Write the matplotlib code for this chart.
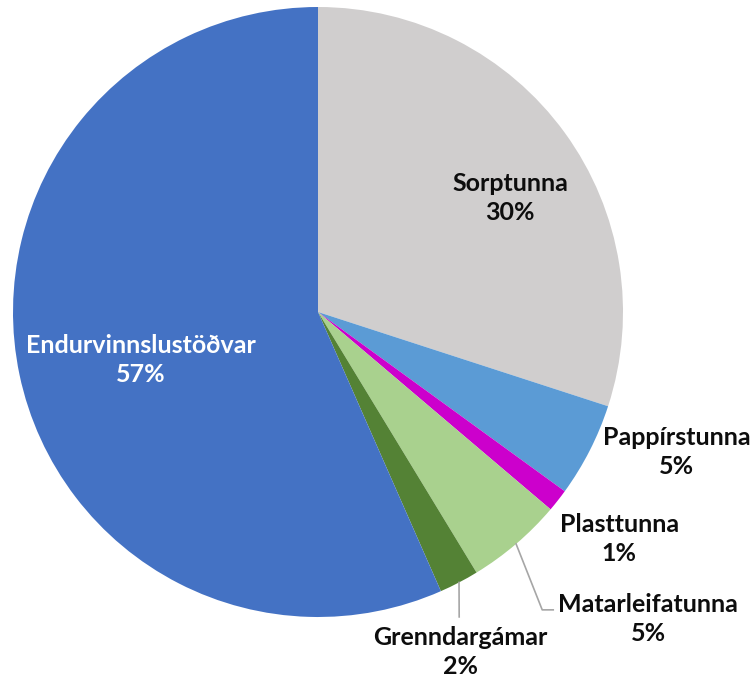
import numpy as np
import matplotlib
matplotlib.use("Agg")
import matplotlib.pyplot as plt

# Data (share of household waste, %)
categories = ["Sorptunna", "Pappírstunna", "Plasttunna", "Matarleifatunna",
              "Grenndargámar", "Endurvinnslustöðvar"]
values = [30.0, 5.0, 1.2, 5.1, 2.1, 56.6]

COLORS = ["#D0CECE", "#5B9BD5", "#CC00CC", "#A9D18E", "#548235", "#4472C4"]
TEXT_COLORS = ["#0d0d0d", "#0d0d0d", "#0d0d0d", "#0d0d0d", "#0d0d0d", "white"]
LEADER = "#a6a6a6"

W, H = 756, 681
CX, CY, R = 318, H - 312, 305

# label placement: (radius factor, angle deg) relative to pie centre
LABEL_POS = [(0.732, 30.7), (1.263, -21.3), (1.236, -37.0),
             (1.478, -42.9), (1.208, -67.3), (0.601, 195.2)]
# leader lines: offsets of elbow / line end from label centre (pixels)
LEADERS = {3: [(-106, 9), (-95, 9)], 4: [(-1, 35)]}

fig = plt.figure(figsize=(W / 100, H / 100), dpi=100)
ax = fig.add_axes([0, 0, 1, 1])

wedges, _ = ax.pie(values, colors=COLORS, startangle=90, counterclock=False,
                   center=(CX, CY), radius=R, frame=True)
ax.set_xlim(0, W)
ax.set_ylim(0, H)
ax.set_aspect("equal")
ax.axis("off")

total = sum(values)
font = dict(family=["Lato", "DejaVu Sans"], fontweight="bold", fontsize=18)
for i, (w, cat, v) in enumerate(zip(wedges, categories, values)):
    rf, ang = LABEL_POS[i]
    lx = CX + rf * R * np.cos(np.radians(ang))
    ly = CY + rf * R * np.sin(np.radians(ang))
    ax.text(lx, ly, f"{cat}\n{v / total * 100:.0f}%", ha="center", va="center",
            color=TEXT_COLORS[i], linespacing=1.35, **font)
    if i in LEADERS:
        mid = np.radians((w.theta1 + w.theta2) / 2)
        xs = [CX + R * np.cos(mid)] + [lx + dx for dx, dy in LEADERS[i]]
        ys = [CY + R * np.sin(mid)] + [ly + dy for dx, dy in LEADERS[i]]
        ax.plot(xs, ys, color=LEADER, lw=1.2)

fig.savefig("out.png", dpi=100, facecolor="white")
